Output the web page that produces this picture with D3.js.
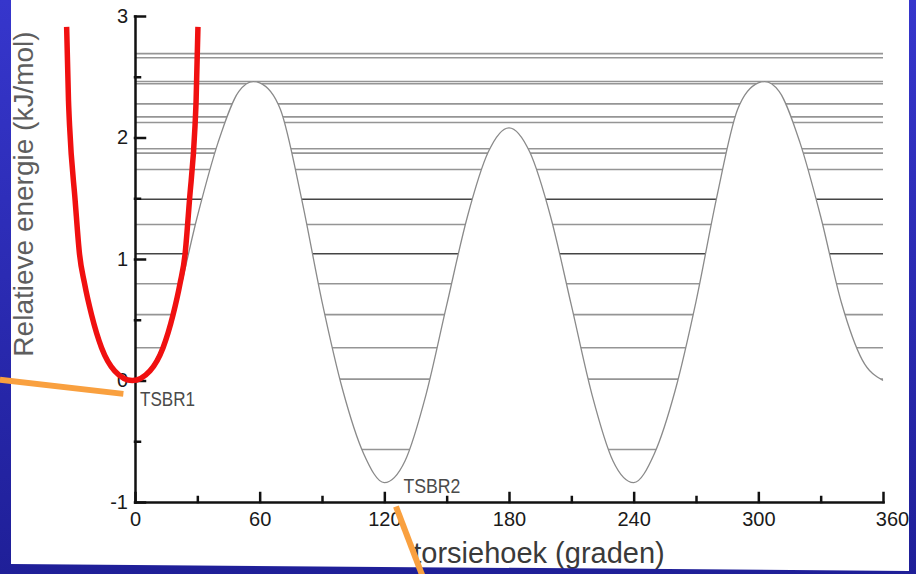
<!DOCTYPE html>
<html>
<head>
<meta charset="utf-8">
<script src="https://cdn.jsdelivr.net/npm/d3@7"></script>
<style>
    html, body { margin: 0; padding: 0; background: #2a2ab4; }
    #chart { width: 916px; height: 574px; }
    svg { display: block; font-family: "Liberation Sans", Arial, sans-serif; }
</style>
</head>
<body>
<div id="chart"></div>
<script>
// torsion potential: angle (degrees) -> relative energy (kJ/mol)
const angles = [0, 10, 20, 30, 40, 50, 57, 60, 70, 80, 90, 100, 110, 120, 130, 140, 150, 160, 170, 180,
                190, 200, 210, 220, 230, 240, 250, 260, 270, 280, 290, 300, 303, 310, 320, 330, 340, 350, 360];
const energies = [0, 0.17, 0.64, 1.35, 1.96, 2.38, 2.46, 2.45, 2.23, 1.51, 0.65, -0.08, -0.60, -0.84, -0.66, -0.12, 0.62, 1.35, 1.88, 2.08,
                  1.88, 1.35, 0.62, -0.12, -0.66, -0.84, -0.60, -0.08, 0.65, 1.51, 2.23, 2.45, 2.46, 2.38, 1.96, 1.35, 0.64, 0.17, 0];

// red well around TSBR1
const wellAngles = [-32.9, -32.0, -31.5, -28.8, -26.7, -24.3, -20.9, -16.1, -9.8, -1.3, 7.2, 13.5, 18.3, 21.7, 24.1, 26.2, 28.9, 29.4, 30.3];
const wellEnergies = [2.91, 2.30, 2.10, 1.48, 1.04, 0.80, 0.54, 0.27, 0.08, 0, 0.08, 0.27, 0.54, 0.80, 1.04, 1.48, 2.10, 2.30, 2.91];

// energy levels (horizontal lines)
const levels = [2.69, 2.656, 2.461, 2.442, 2.277, 2.17, 2.123, 1.907, 1.871, 1.737, 1.492, 1.284, 1.043, 0.796, 0.542, 0.27, 0.011, -0.568];
const darkLevels = [1.492, 1.043];

// axis ticks
const xTicks = [0, 60, 120, 180, 240, 300, 360];
const xMinorTicks = [30, 90, 150, 210, 270, 330];
const yTicks = [-1, 0, 1, 2, 3];
const yMinorTicks = [-0.5, 0.5, 1.5, 2.5];

// annotation labels and orange pointers (in data units)
const labelNames = ["TSBR1", "TSBR2"];
const labelAngles = [2.4, 129.2];
const labelEnergies = [-0.206, -0.93];
const pointer1 = [[-65, 0.006], [-5.6, -0.11]];
const pointer2 = [[125.6, -1.037], [139.5, -1.66]];

class TorsionChart {
    constructor(parentElement) {
        this.parentElement = parentElement;
        this.curve = angles.map((a, i) => ({angle: a, energy: energies[i]}));
        this.well = wellAngles.map((a, i) => ({angle: a, energy: wellEnergies[i]}));
    }

    initVis() {
        let vis = this;

        vis.W = 916;
        vis.H = 574;
        vis.margin = {top: 16, right: 33, bottom: 72, left: 135};
        vis.width = vis.W - vis.margin.left - vis.margin.right;
        vis.height = vis.H - vis.margin.top - vis.margin.bottom;

        vis.root = d3.select("#" + vis.parentElement).append("svg")
            .attr("width", vis.W)
            .attr("height", vis.H);

        const defs = vis.root.append("defs");
        const grad = defs.append("linearGradient")
            .attr("id", "frame-blue")
            .attr("x1", 0).attr("y1", 0).attr("x2", 0).attr("y2", 1);
        grad.append("stop").attr("offset", "0%").attr("stop-color", "#3636cc");
        grad.append("stop").attr("offset", "100%").attr("stop-color", "#1f1f98");

        // white slide background
        vis.root.append("rect")
            .attr("width", vis.W).attr("height", vis.H)
            .attr("fill", "#fff");

        vis.svg = vis.root.append("g")
            .attr("transform", "translate(" + vis.margin.left + "," + vis.margin.top + ")");

        vis.x = d3.scaleLinear().domain([0, 360]).range([0, vis.width]);
        vis.y = d3.scaleLinear().domain([-1, 3]).range([vis.height, 0]);

        // clip: region above the potential curve, so levels only show inside the wells
        defs.append("clipPath").attr("id", "above-curve")
            .append("path")
            .datum(vis.curve)
            .attr("d", d3.area()
                .x(d => vis.x(d.angle))
                .y0(0)
                .y1(d => vis.y(d.energy))
                .curve(d3.curveMonotoneX));

        vis.svg.append("g")
            .attr("clip-path", "url(#above-curve)")
            .selectAll(".level")
            .data(levels)
            .enter().append("line")
            .attr("class", "level")
            .attr("x1", vis.x(0))
            .attr("x2", vis.x(360))
            .attr("y1", d => vis.y(d))
            .attr("y2", d => vis.y(d))
            .attr("stroke", d => darkLevels.includes(d) ? "#444" : "#959595")
            .attr("stroke-width", 1.6);

        vis.svg.append("path")
            .datum(vis.curve)
            .attr("fill", "none")
            .attr("stroke", "#8a8a8a")
            .attr("stroke-width", 1.3)
            .attr("d", d3.line()
                .x(d => vis.x(d.angle))
                .y(d => vis.y(d.energy))
                .curve(d3.curveMonotoneX));

        // axes - ticks point inwards
        const yAxis = d3.axisLeft(vis.y).tickValues(yTicks)
            .tickSizeInner(-10).tickSizeOuter(0).tickPadding(7)
            .tickFormat(d => String(d));
        const yMinor = d3.axisLeft(vis.y).tickValues(yMinorTicks)
            .tickSizeInner(-5).tickSizeOuter(0).tickFormat("");
        const xAxis = d3.axisBottom(vis.x).tickValues(xTicks)
            .tickSizeInner(-9).tickSizeOuter(0).tickPadding(10)
            .tickFormat(d => String(d));
        const xMinor = d3.axisBottom(vis.x).tickValues(xMinorTicks)
            .tickSizeInner(-5).tickSizeOuter(0).tickFormat("");

        const gy = vis.svg.append("g").attr("class", "y-axis").call(yAxis);
        const gym = vis.svg.append("g").attr("class", "y-minor").call(yMinor);
        const gx = vis.svg.append("g").attr("class", "x-axis")
            .attr("transform", `translate(0, ${vis.height})`).call(xAxis);
        const gxm = vis.svg.append("g").attr("class", "x-minor")
            .attr("transform", `translate(0, ${vis.height})`).call(xMinor);

        gym.select(".domain").remove();
        gxm.select(".domain").remove();

        [gy, gym, gx, gxm].forEach(g => {
            g.selectAll("path, line")
                .attr("stroke", "#111")
                .attr("stroke-width", 2.5)
                .attr("stroke-linecap", "square");
            g.selectAll("text")
                .attr("fill", "#1a1a1a")
                .style("font-size", "20px");
        });
        // last x label sits a bit to the right (gets cut by the frame)
        gx.selectAll(".tick text").filter(d => d === 360).attr("dx", 9);

        // red well
        vis.svg.append("path")
            .datum(vis.well)
            .attr("fill", "none")
            .attr("stroke", "#f01010")
            .attr("stroke-width", 5.5)
            .attr("d", d3.line()
                .x(d => vis.x(d.angle))
                .y(d => vis.y(d.energy))
                .curve(d3.curveMonotoneX));

        // TSBR labels
        vis.svg.selectAll(".ts-label")
            .data(labelNames)
            .enter().append("text")
            .attr("class", "ts-label")
            .attr("x", (d, i) => vis.x(labelAngles[i]))
            .attr("y", (d, i) => vis.y(labelEnergies[i]))
            .attr("textLength", (d, i) => i === 0 ? 55 : 57)
            .attr("lengthAdjust", "spacingAndGlyphs")
            .attr("fill", "#4a4a4a")
            .style("font-size", "21px")
            .text(d => d);

        // axis titles
        vis.root.append("text")
            .attr("transform", "translate(33,194) rotate(-90)")
            .attr("text-anchor", "middle")
            .attr("fill", "#5e5e5e")
            .style("font-size", "28px")
            .text("Relatieve energie (kJ/mol)");

        vis.root.append("text")
            .attr("x", 539)
            .attr("y", 563)
            .attr("text-anchor", "middle")
            .attr("fill", "#3a3a3a")
            .style("font-size", "29px")
            .text("torsiehoek (graden)");

        // blue slide frame on top (cuts the 360 label)
        vis.root.append("path")
            .attr("fill", "url(#frame-blue)")
            .attr("fill-rule", "evenodd")
            .attr("d", `M0,0H${vis.W}V${vis.H}H0Z M11,0H909V571L11,564Z`);

        // orange pointers come from outside the chart
        const pointerLine = d3.line()
            .x(d => vis.margin.left + vis.x(d[0]))
            .y(d => vis.margin.top + vis.y(d[1]));
        vis.root.selectAll(".pointer")
            .data([pointer1, pointer2])
            .enter().append("path")
            .attr("class", "pointer")
            .attr("fill", "none")
            .attr("stroke", "#f9a03f")
            .attr("stroke-width", 6)
            .attr("d", pointerLine);
    }
}

const chart = new TorsionChart("chart");
chart.initVis();
</script>
</body>
</html>
